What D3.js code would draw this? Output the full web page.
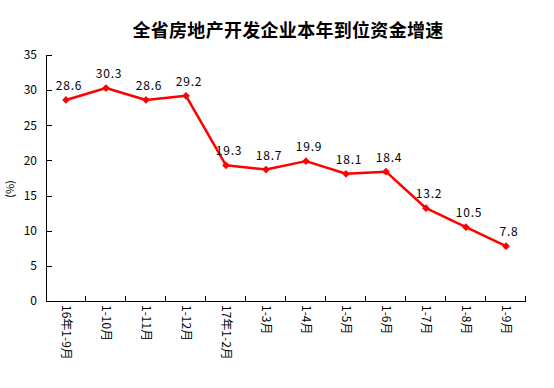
<!DOCTYPE html>
<html>
<head>
<meta charset="utf-8">
<script src="https://cdn.jsdelivr.net/npm/d3@7"></script>
<style>
    body { margin: 0; background: #fff; }
    text { font-family: "Noto Sans CJK SC", "DejaVu Sans", sans-serif; fill: #000; }
    .axis path, .axis line { stroke: #000; shape-rendering: crispEdges; }
</style>
</head>
<body>
<svg id="chart"></svg>
<script>
// categories and values
const periods = ["16年1-9月", "1-10月", "1-11月", "1-12月", "17年1-2月", "1-3月",
    "1-4月", "1-5月", "1-6月", "1-7月", "1-8月", "1-9月"];
const growth = [28.6, 30.3, 28.6, 29.2, 19.3, 18.7, 19.9, 18.1, 18.4, 13.2, 10.5, 7.8];
const yTicks = [0, 5, 10, 15, 20, 25, 30, 35];

const config = {
    width: 554,
    height: 388,
    margin: {top: 55, right: 28, bottom: 87, left: 46}
};

const svg = d3.select('#chart')
    .attr('width', config.width)
    .attr('height', config.height);

const innerW = config.width - config.margin.left - config.margin.right;
const innerH = config.height - config.margin.top - config.margin.bottom;

const chart = svg.append('g')
    .attr('transform', `translate(${config.margin.left},${config.margin.top})`);

const data = periods.map((p, i) => ({period: p, value: growth[i]}));

const xScale = d3.scaleBand()
    .domain(periods)
    .range([0, innerW]);

const yScale = d3.scaleLinear()
    .domain([0, 35])
    .range([innerH, 0]);

// title
svg.append('text')
    .attr('x', 288)
    .attr('y', 37)
    .attr('text-anchor', 'middle')
    .style('font-size', '18px')
    .style('font-weight', 'bold')
    .style('letter-spacing', '0.3px')
    .text('全省房地产开发企业本年到位资金增速');

// y axis, ticks point inward
const yAxis = d3.axisLeft(yScale)
    .tickValues(yTicks)
    .tickSize(0)
    .tickPadding(9);

const yAxisG = chart.append('g')
    .attr('class', 'axis y-axis')
    .call(yAxis);
yAxisG.selectAll('.tick text').style('font-size', '12px');
yAxisG.select('.domain').attr('d', `M0.5,0V${innerH}`);
yAxisG.selectAll('.tick').append('line')
    .attr('x1', 0)
    .attr('x2', 6)
    .attr('stroke', '#000');

svg.append('text')
    .attr('transform', `translate(14,189) rotate(-90)`)
    .attr('text-anchor', 'middle')
    .style('font-size', '11px')
    .text('(%)');

// x axis line and category separator ticks (pointing up)
const xAxisG = chart.append('g')
    .attr('class', 'axis x-axis')
    .attr('transform', `translate(0,${innerH})`);

xAxisG.append('line')
    .attr('x1', 0)
    .attr('x2', innerW)
    .attr('y1', 0.5)
    .attr('y2', 0.5);

xAxisG.selectAll('.sep')
    .data(periods)
    .join('line')
    .attr('class', 'sep')
    .attr('x1', d => Math.round(xScale(d) + xScale.bandwidth()) - 0.5)
    .attr('x2', d => Math.round(xScale(d) + xScale.bandwidth()) - 0.5)
    .attr('y1', 0)
    .attr('y2', -5);

// rotated category labels
xAxisG.selectAll('.cat-label')
    .data(periods)
    .join('text')
    .attr('class', 'cat-label')
    .attr('transform', d => `translate(${xScale(d) + xScale.bandwidth() / 2},4) rotate(90)`)
    .attr('dy', '0.35em')
    .style('font-size', '12px')
    .text(d => d);

// line
const line = d3.line()
    .x(d => xScale(d.period) + xScale.bandwidth() / 2)
    .y(d => yScale(d.value));

chart.append('path')
    .datum(data)
    .attr('d', line)
    .attr('fill', 'none')
    .attr('stroke', '#ff0000')
    .attr('stroke-width', 2.5)
    .attr('stroke-linejoin', 'round');

// diamond markers
chart.selectAll('.marker')
    .data(data)
    .join('path')
    .attr('class', 'marker')
    .attr('d', d3.symbol().type(d3.symbolSquare).size(30))
    .attr('transform', d => `translate(${xScale(d.period) + xScale.bandwidth() / 2},${yScale(d.value)}) rotate(45)`)
    .attr('fill', '#ff0000');

// value labels
chart.selectAll('.value-label')
    .data(data)
    .join('text')
    .attr('class', 'value-label')
    .attr('x', d => xScale(d.period) + xScale.bandwidth() / 2 + 3)
    .attr('y', d => yScale(d.value) - 10)
    .attr('text-anchor', 'middle')
    .style('font-size', '12px')
    .style('letter-spacing', '0.8px')
    .text(d => d3.format('.1f')(d.value));
</script>
</body>
</html>
